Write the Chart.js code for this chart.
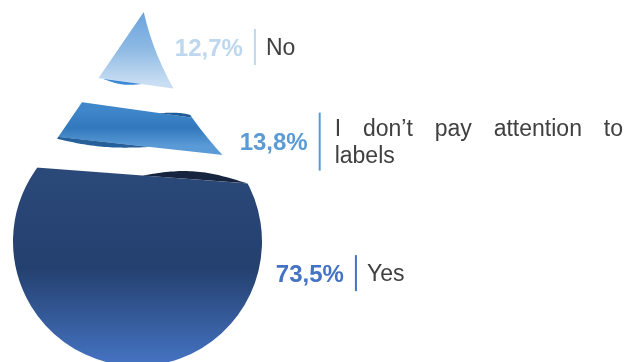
<!DOCTYPE html>
<html>
<head>
<meta charset="utf-8">
<script src="https://cdn.jsdelivr.net/npm/chart.js"></script>
<style>
  html, body { margin: 0; padding: 0; background: #fff; }
  #wrap { position: relative; width: 629px; height: 362px; }
</style>
</head>
<body>
<div id="wrap"><canvas id="drop"></canvas></div>
<script>
// answers from top to bottom of the drop, with their share in percent
const answers = ['No', ['I don’t pay attention to', 'labels'], 'Yes'];
const shares = [12.7, 13.8, 73.5];

const shareColors = ['#bdd7ee', '#5b9bd5', '#4472c4'];
const fillStops = [
  ['#6ca3dc', '#8cb9e4', '#c9def3'],
  ['#3f87ca', '#3178bc', '#5a9ad6'],
  ['#2a4878', '#24406f', '#4472c0']
];

// slice edges sit a bit away from the stack boundary and lean to the right
const GAP_TOP = [0, 6.5, 15.5];
const GAP_BOTTOM = [20, 14, 0];
const SLANT_TOP = [0, 0.14, 0.075];
const SLANT_BOTTOM = [0.14, 0.11, 0];

// darker rims that give the slices some depth (from/to in radii from the centre)
const rims = [
  { slice: 0, side: 'bottom', from: -0.28, to: 0.03, depth: 3, color: '#3b89d6' },
  { slice: 1, side: 'top', from: 0.18, to: 0.55, depth: 3, color: '#1f5b98' },
  { slice: 1, side: 'bottom', from: -0.75, to: 0.1, depth: 5, color: '#26609b' },
  { slice: 2, side: 'top', from: 0.04, to: 0.88, depth: 8, color: '#162440' }
];

// small shifts of each label block away from its computed spot
const labelNudge = [{ dx: -2, dy: -2 }, { dx: 12, dy: 6 }, { dx: -4, dy: 0 }];

const formatShare = v => v.toFixed(1).replace('.', ',') + '%';

// linear axis with a power curve, so the thin top of the drop gets more room
class PowScale extends Chart.LinearScale {
  static id = 'pow';
  static defaults = { exponent: 0.65 };
  getPixelForValue(value) {
    if (value === null || isNaN(value)) return NaN;
    const t = Math.max((value - this.min) / (this.max - this.min), 0);
    return this.getPixelForDecimal(Math.pow(t, this.options.exponent));
  }
  getValueForPixel(pixel) {
    const t = Math.pow(Math.max(this.getDecimalForPixel(pixel), 0), 1 / this.options.exponent);
    return this.min + t * (this.max - this.min);
  }
}
Chart.register(PowScale);

function dropShape(bar, area) {
  const r = bar.width / 2;
  const cx = bar.x;
  const cy = area.bottom - r + 4;
  const tip = { x: cx + r * 0.05, y: area.top };
  const dx = cx - tip.x, dy = cy - tip.y;
  const d = Math.hypot(dx, dy);
  const phi = Math.atan2(dy, dx);
  const alpha = Math.asin(r / d);
  const len = Math.sqrt(d * d - r * r);
  const right = { x: tip.x + len * Math.cos(phi - alpha), y: tip.y + len * Math.sin(phi - alpha) };
  const left = { x: tip.x + len * Math.cos(phi + alpha), y: tip.y + len * Math.sin(phi + alpha) };
  const ctrl = { x: tip.x + r * 0.16, y: tip.y + r * 0.71 };
  return {
    cx, cy, r, tip, right, left, ctrl,
    aRight: Math.atan2(right.y - cy, right.x - cx),
    aLeft: Math.atan2(left.y - cy, left.x - cx)
  };
}

function dropPath(ctx, g) {
  ctx.beginPath();
  ctx.moveTo(g.tip.x, g.tip.y);
  ctx.quadraticCurveTo(g.ctrl.x, g.ctrl.y, g.right.x, g.right.y);
  ctx.arc(g.cx, g.cy, g.r, g.aRight, g.aLeft, false);
  ctx.lineTo(g.tip.x, g.tip.y);
  ctx.closePath();
}

function rightEdgeAt(g, y) {
  if (y >= g.right.y) {
    const h = y - g.cy;
    return g.cx + Math.sqrt(Math.max(g.r * g.r - h * h, 0));
  }
  let lo = 0, hi = 1;
  for (let k = 0; k < 30; k++) {
    const t = (lo + hi) / 2;
    const qy = (1 - t) * (1 - t) * g.tip.y + 2 * t * (1 - t) * g.ctrl.y + t * t * g.right.y;
    if (qy < y) lo = t; else hi = t;
  }
  const t = (lo + hi) / 2;
  return (1 - t) * (1 - t) * g.tip.x + 2 * t * (1 - t) * g.ctrl.x + t * t * g.right.x;
}

const edgeY = (e, x, cx) => e.y + e.slant * (x - cx);

const dropPlugin = {
  id: 'dropSlices',
  afterDatasetsDraw(chart) {
    const { ctx, chartArea: area } = chart;
    const bars = chart.data.datasets.map((ds, i) => chart.getDatasetMeta(i).data[0]);
    const g = dropShape(bars[0], area);
    const n = bars.length;

    bars.forEach((bar, i) => {
      const top = Math.min(bar.y, bar.base);
      const bottom = Math.max(bar.y, bar.base);
      const upper = i === 0 ? null : { y: top + GAP_TOP[i], slant: SLANT_TOP[i] };
      const lower = i === n - 1 ? null : { y: bottom - GAP_BOTTOM[i], slant: SLANT_BOTTOM[i] };
      const yU = x => upper ? edgeY(upper, x, g.cx) : 0;
      const yL = x => lower ? edgeY(lower, x, g.cx) : chart.height + 10;

      ctx.save();
      dropPath(ctx, g);
      ctx.clip();

      const x0 = g.cx - 2 * g.r, x1 = g.cx + 2 * g.r;
      ctx.beginPath();
      ctx.moveTo(x0, yU(x0));
      ctx.lineTo(x1, yU(x1));
      ctx.lineTo(x1, yL(x1));
      ctx.lineTo(x0, yL(x0));
      ctx.closePath();
      const gy0 = upper ? upper.y : g.tip.y;
      const gy1 = lower ? lower.y : area.bottom;
      const grad = ctx.createLinearGradient(0, gy0, 0, gy1);
      const stops = fillStops[i];
      stops.forEach((c, k) => grad.addColorStop(k / (stops.length - 1), c));
      ctx.fillStyle = grad;
      ctx.fill();

      rims.filter(rm => rm.slice === i).forEach(rm => {
        const e = rm.side === 'top' ? upper : lower;
        if (!e) return;
        const xa = g.cx + rm.from * g.r, xb = g.cx + rm.to * g.r;
        const sign = rm.side === 'top' ? -1 : 1;
        ctx.beginPath();
        const steps = 40;
        for (let k = 0; k <= steps; k++) {
          const x = xa + (xb - xa) * k / steps;
          const y = edgeY(e, x, g.cx) + sign * rm.depth * Math.sin(Math.PI * k / steps);
          if (k === 0) ctx.moveTo(x, y); else ctx.lineTo(x, y);
        }
        ctx.lineTo(xa, edgeY(e, xa, g.cx));
        ctx.closePath();
        ctx.fillStyle = rm.color;
        ctx.fill();
      });
      ctx.restore();

      // value, separator and answer text beside the slice
      const center = x => ((upper ? yU(x) : area.top) + (lower ? yL(x) : area.bottom)) / 2;
      let y = center(g.cx);
      let xr = rightEdgeAt(g, y);
      y = center(xr);
      xr = rightEdgeAt(g, y);
      y += labelNudge[i].dy;
      const lineX = xr + 102 + labelNudge[i].dx;
      const lines = Array.isArray(answers[i]) ? answers[i] : [answers[i]];
      const lineH = 27;
      const half = lines.length > 1 ? 29 : 18;

      ctx.save();
      ctx.font = 'bold 24px "Liberation Sans", Arial, sans-serif';
      ctx.textAlign = 'right';
      ctx.textBaseline = 'alphabetic';
      ctx.fillStyle = shareColors[i];
      ctx.fillText(formatShare(shares[i]), lineX - 12, y + 8.6);

      ctx.strokeStyle = shareColors[i];
      ctx.lineWidth = 2;
      ctx.beginPath();
      ctx.moveTo(lineX, y - half);
      ctx.lineTo(lineX, y + half);
      ctx.stroke();

      ctx.font = '23px "Liberation Sans", Arial, sans-serif';
      ctx.textAlign = 'left';
      ctx.fillStyle = '#404040';
      const tx = lineX + (lines.length > 1 ? 15 : 11);
      const boxRight = chart.width - 6;
      lines.forEach((line, k) => {
        const ly = y + (k - (lines.length - 1) / 2) * lineH + 8.2;
        if (k < lines.length - 1) {
          const words = line.split(' ');
          const widths = words.map(w => ctx.measureText(w).width);
          const gap = (boxRight - tx - widths.reduce((a, b) => a + b, 0)) / (words.length - 1);
          let wx = tx;
          words.forEach((w, j) => { ctx.fillText(w, wx, ly); wx += widths[j] + gap; });
        } else {
          ctx.fillText(line, tx, ly);
        }
      });
      ctx.restore();
    });
  }
};

new Chart(document.getElementById('drop'), {
  type: 'bar',
  data: {
    labels: [''],
    datasets: answers.map((a, i) => ({
      label: Array.isArray(a) ? a.join(' ') : a,
      data: [shares[i]],
      backgroundColor: 'rgba(0,0,0,0)',
      borderWidth: 0,
      categoryPercentage: 1,
      barPercentage: 1
    }))
  },
  options: {
    responsive: true,
    maintainAspectRatio: false,
    animation: false,
    devicePixelRatio: 1,
    events: [],
    layout: { padding: { left: 13, right: 367, top: 12, bottom: 0 } },
    plugins: { legend: { display: false }, tooltip: { enabled: false } },
    scales: {
      x: { display: false, stacked: true },
      y: { type: 'pow', exponent: 0.65, display: false, stacked: true, reverse: true, min: 0, max: 100 }
    }
  },
  plugins: [dropPlugin]
});
</script>
</body>
</html>
